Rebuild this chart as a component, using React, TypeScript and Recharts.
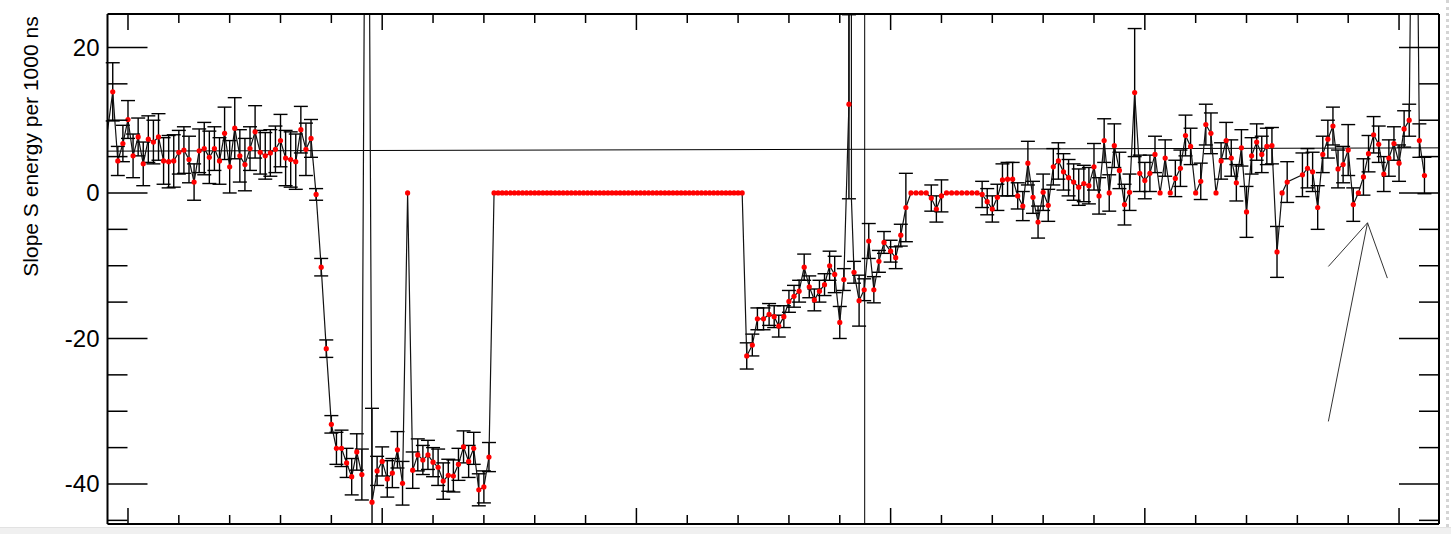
import { ComposedChart, Line, XAxis, YAxis, ErrorBar, ReferenceLine } from 'recharts';

// time runs one unit per sample; minor tick every 10, major every 50
const xDomain: [number, number] = [-4.03, 257.86];
const yDomain: [number, number] = [-45.5, 24.6];
const xTicks = [0, 10, 20, 30, 40, 50, 60, 70, 80, 90, 100, 110, 120, 130, 140, 150, 160, 170, 180, 190, 200, 210, 220, 230, 240, 250];
const yTicks = [-45, -40, -35, -30, -25, -20, -15, -10, -5, 0, 5, 10, 15, 20];

type Err = number | [number, number];

// t = -4 .. 37
const openStart = -4;
const openValues = [8.7, 13.9, 4.4, 6.8, 10.1, 5.1, 7.7, 4.0, 7.4, 7.0, 7.7, 4.4, 4.3, 4.4, 5.6, 5.9, 4.6, 1.5, 5.8, 6.1, 4.9, 6.1, 4.4, 8.2, 3.6, 8.9, 5.1, 3.9, 6.1, 8.4, 5.6, 5.1, 5.5, 6.0, 7.2, 4.8, 4.6, 4.3, 8.7, 6.0, 7.5, -0.2];
const openErrors: Err[] = [0, 4.0, 2.0, 2.5, 2.6, 3.0, 2.6, 3.0, 3.2, 3.0, 3.2, 3.2, 3.6, 3.6, 3.0, 3.2, 3.2, 2.5, 3.0, 3.6, 3.6, 3.0, 3.2, 3.6, 3.6, 4.2, 3.6, 3.6, 3.0, 3.6, 3.0, 3.2, 3.2, 3.2, 3.6, 3.8, 3.8, 3.8, 3.2, 3.6, 2.6, 0.8];

// t = 38 .. 71 (drop and low plateau)
const lowStart = 38;
const lowValues = [-10.2, -21.4, -31.8, -35.1, -35.1, -37.1, -39.0, -35.6, -38.7, 100, -42.5, -38.2, -36.9, -39.3, -38.5, -35.3, -39.9, 0, -38.1, -36.0, -36.7, -36.0, -37.0, -37.7, -39.6, -38.8, -38.9, -37.3, -34.9, -36.9, -35.1, -40.8, -40.4, -36.3];
const lowErrors: Err[] = [1.2, 1.2, 1.2, 2.2, 2.5, 2.0, 2.5, 2.5, 3.5, 0, [3.0, 12.9], 2.0, 2.0, 2.5, 2.0, 2.5, 3.0, 0, 2.5, 2.2, 2.0, 2.0, 2.0, 2.5, 2.5, 2.2, 2.2, 2.2, 2.2, 2.2, 2.2, 2.2, 2.2, 2.0];

// flat run at zero, 0.8 apart
const flatStart = 72;
const flatStep = 0.8;
const flatValues = [
  0, 0, 0, 0, 0, 0, 0, 0, 0, 0, 0, 0, 0, 0, 0, 0, 0, 0, 0, 0, 0, 0, 0, 0, 0, 0, 0, 0, 0, 0, 0,
  0, 0, 0, 0, 0, 0, 0, 0, 0, 0, 0, 0, 0, 0, 0, 0, 0, 0, 0, 0, 0, 0, 0, 0, 0, 0, 0, 0, 0, 0, 0,
];

// recovery
const riseTimes = [121.7, 122.8, 123.8, 125, 126.1, 127.1, 128, 129, 130, 131, 132, 133, 134, 135, 136, 137, 138, 139, 140, 140.8, 141.8, 142.1, 142.3, 142.8, 143.8, 144.8, 145.7, 146.7, 147.7, 148.7, 150, 151, 152, 153];
const riseValues = [-22.4, -20.9, -17.3, -17.3, -16.7, -17.0, -18.3, -17.0, -14.9, -14.2, -13.5, -10.2, -12.9, -14.7, -13.5, -12.6, -10.0, -11.2, -17.8, -11.9, 12.2, 300, -1, -10.9, -14.8, -13.3, -6.6, -13.3, -9.4, -6.8, -8.0, -8.9, -5.8, -2.0];
const riseErrors: Err[] = [1.8, 1.5, 1.5, 1.5, 1.5, 1.5, 1.5, 1.5, 1.5, 1.5, 1.5, 1.8, 1.5, 1.5, 1.5, 1.5, 2.0, 2.5, 2.2, 1.5, [13, 12.3], 0, 0, 1.5, 3.5, 1.5, 2.4, 1.8, 1.5, 1.5, 1.5, 1.5, 1.5, 4.7];

// t = 154 .. 228
const tailStart = 154;
const tailValues = [
  0, 0, 0, 0, -0.7, -2.2, -0.4, 0, 0, 0, 0, 0, 0, 0,
  -0.2, -1.2, -2.2, -0.6, 1.8, 1.9, 1.9, -0.4, -1.8, 4.1,
  -0.6, -4.0, 0.1, -1.7, 3.6, 4.4, 2.9, 2.1, 1.5, 0.8,
  1.3, 1.0, 3.6, -0.4, 7.2, 0, 6.5, 3.1, -1.6, 0.1,
  13.8, 2.7, 1.7, 2.7, 5.3, 0, 4.8, 0, 2.0, 3.4,
  7.9, 6.4, 0, 1.6, 9.4, 8.2, 0, 4.4, 7.2, 4.8,
  1.4, 6.2, -2.6, 5.1, 7.0, 5.3, 6.4, 6.5, -8.1, 0,
  1.5,
];
const tailErrors: Err[] = [
  0, 0, 0, 0, 1.8, 1.8, 2.2, 0, 0, 0, 0, 0, 0, 0,
  1.8, 1.8, 1.8, 1.8, 2.2, 2.3, 2.3, 1.8, 2.0, 3.0,
  2.2, 2.2, 2.5, 2.2, 2.5, 2.5, 2.5, 2.5, 2.5, 2.5,
  2.5, 2.5, 3.2, 2.5, 3.0, 2.5, 3.0, 2.5, 2.8, 2.5,
  8.8, 2.5, 2.5, 2.5, 2.5, 0, 2.5, 0, 2.5, 2.5,
  2.8, 2.5, 0, 2.5, 2.8, 2.8, 0, 2.5, 2.5, 2.5,
  2.5, 2.5, 3.5, 2.5, 2.5, 2.5, 2.5, 2.5, 3.5, 0,
  2.8,
];

// t = 231 .. 255
const endStart = 231;
const endValues = [2.5, 3.4, 2.9, -2.0, 5.3, 7.4, 9.2, 3.3, 3.9, 5.9, -1.6, 0, 2.2, 5.4, 8.0, 6.7, 2.6, 4.8, 6.8, 4.1, 8.8, 10.0, 80, 7.2, 2.4];
const endErrors: Err[] = [3.0, 2.7, 2.7, 3.0, 2.5, 2.6, 2.6, 2.6, 2.5, 3.5, 2.3, 0, 2.5, 2.5, 2.5, 2.5, 2.4, 2.5, 2.3, 2.5, 2.5, 2.2, 0, 2.3, 2.5];

// line vertices drawn without a red marker
const bareTimes = [-4, 142.3];

const fitTimes = [-4, 257.8];
const fitValues = [5.75, 6.2];
const markerTime = 144.9;
const arrowTip = { t: 243.8, v: -4.1 };
const arrowTails = [
  { t: 236.1, v: -31.4 },
  { t: 236.1, v: -10.1 },
  { t: 247.7, v: -11.7 },
];

const FONT = '"Liberation Sans", Arial, Helvetica, sans-serif';

const run = (start: number, step: number, values: number[], errors?: Err[]) =>
  values.map((v, i) => ({ t: +(start + i * step).toFixed(2), v, e: (errors ? errors[i] ?? 0 : 0) as Err }));

const points = [
  ...run(openStart, 1, openValues, openErrors),
  ...run(lowStart, 1, lowValues, lowErrors),
  ...run(flatStart, flatStep, flatValues),
  ...riseTimes.map((t, i) => ({ t, v: riseValues[i], e: (riseErrors[i] ?? 0) as Err })),
  ...run(tailStart, 1, tailValues, tailErrors),
  ...run(endStart, 1, endValues, endErrors),
].map((p) => ({ ...p, bare: bareTimes.includes(p.t) }));

const RedDot = (props: any) => {
  const { cx, cy, payload, index } = props;
  const off = payload.v > yDomain[1] || payload.v < yDomain[0];
  if (payload.bare || off || cx == null || cy == null) return <g key={`d${index}`} />;
  return <circle key={`d${index}`} cx={cx} cy={cy} r={2.6} fill="#ff0000" />;
};

const BottomTick = ({ x, y, payload }: any) => {
  const len = payload.value % 50 === 0 ? 15 : 8;
  return <line x1={x} x2={x} y1={y - 1} y2={y - 1 - len} stroke="#000" strokeWidth={1.5} />;
};

const TopTick = ({ x, y, payload }: any) => {
  const len = payload.value % 50 === 0 ? 16 : 9;
  return <line x1={x} x2={x} y1={y} y2={y + len} stroke="#000" strokeWidth={1.5} />;
};

const LeftTick = ({ x, y, payload }: any) => {
  const major = payload.value % 20 === 0;
  return (
    <g>
      <line x1={x} x2={x + (major ? 40 : 20)} y1={y} y2={y} stroke="#000" strokeWidth={1.5} />
      {major && (
        <text x={x - 8} y={y} textAnchor="end" dominantBaseline="central" fontSize={24} fontFamily={FONT} fill="#000">
          {payload.value}
        </text>
      )}
    </g>
  );
};

const RightTick = ({ x, y, payload }: any) => {
  const major = payload.value % 20 === 0;
  return <line x1={x} x2={x - (major ? 40 : 20)} y1={y} y2={y} stroke="#000" strokeWidth={1.5} />;
};

const YTitle = () => (
  <text
    x={29.5}
    y={138.5}
    transform="rotate(-90 29.5 138.5)"
    textAnchor="middle"
    fontSize={21}
    fontFamily={FONT}
    fill="#000"
  >
    Slope S energy per 1000 ns
  </text>
);

const App = () => {
  return (
    <div style={{ width: 1436, height: 520, background: '#fff' }}>
      <ComposedChart width={1436} height={520} data={points} margin={{ top: 5, right: 4, bottom: 3, left: 0 }}>
        <XAxis
          xAxisId="bottom"
          type="number"
          dataKey="t"
          domain={xDomain}
          ticks={xTicks}
          interval={0}
          allowDataOverflow
          orientation="bottom"
          height={1}
          tickSize={0}
          tickMargin={0}
          tickLine={false}
          axisLine={{ stroke: '#000', strokeWidth: 2 }}
          tick={BottomTick}
        />
        <XAxis
          xAxisId="top"
          type="number"
          dataKey="t"
          domain={xDomain}
          ticks={xTicks}
          interval={0}
          allowDataOverflow
          orientation="top"
          height={1}
          tickSize={0}
          tickMargin={0}
          tickLine={false}
          axisLine={{ stroke: '#000', strokeWidth: 2 }}
          tick={TopTick}
        />
        <YAxis
          yAxisId="left"
          type="number"
          domain={yDomain}
          ticks={yTicks}
          interval={0}
          allowDataOverflow
          width={99.5}
          tickSize={0}
          tickMargin={0}
          tickLine={false}
          axisLine={{ stroke: '#000', strokeWidth: 2 }}
          tick={LeftTick}
          label={{ content: YTitle }}
        />
        <YAxis
          yAxisId="right"
          orientation="right"
          type="number"
          domain={yDomain}
          ticks={yTicks}
          interval={0}
          allowDataOverflow
          width={1}
          tickSize={0}
          tickMargin={0}
          tickLine={false}
          axisLine={{ stroke: '#000', strokeWidth: 2 }}
          tick={RightTick}
        />
        <ReferenceLine
          xAxisId="bottom"
          yAxisId="left"
          segment={[
            { x: fitTimes[0], y: fitValues[0] },
            { x: fitTimes[1], y: fitValues[1] },
          ]}
          stroke="#000"
          strokeWidth={1}
        />
        <ReferenceLine xAxisId="bottom" yAxisId="left" x={markerTime} stroke="#000" strokeWidth={1} />
        {arrowTails.map((p, i) => (
          <ReferenceLine
            key={`arrow${i}`}
            xAxisId="bottom"
            yAxisId="left"
            segment={[
              { x: p.t, y: p.v },
              { x: arrowTip.t, y: arrowTip.v },
            ]}
            stroke="#333"
            strokeWidth={1}
          />
        ))}
        <Line
          xAxisId="bottom"
          yAxisId="left"
          type="linear"
          dataKey="v"
          stroke="#111"
          strokeWidth={1.2}
          dot={RedDot}
          activeDot={false}
          isAnimationActive={false}
        >
          <ErrorBar dataKey="e" direction="y" width={7} stroke="#000" strokeWidth={1.4} />
        </Line>
      </ComposedChart>
      <div style={{ position: 'fixed', left: 0, top: 527, width: 1451, height: 7, background: '#f0f0f0', borderTop: '1px solid #e2e2e2' }} />
      <div style={{ position: 'fixed', left: 1446, top: 0, width: 0, height: 527, borderLeft: '3px dotted #d4d4d4' }} />
    </div>
  );
};

export default App;
